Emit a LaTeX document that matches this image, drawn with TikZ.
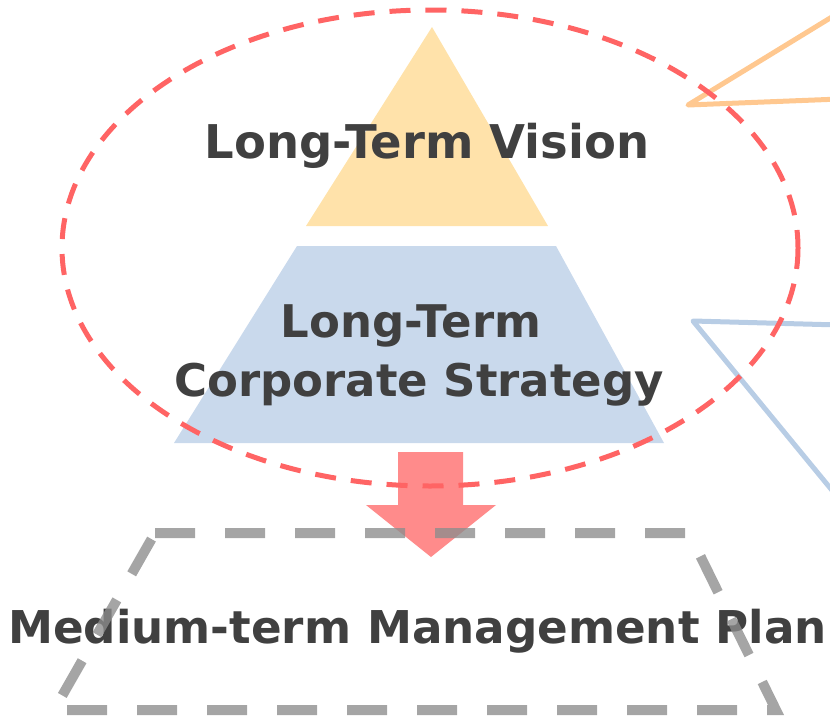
\documentclass[tikz,border=0pt]{standalone}
\usepackage{fontspec}
\setmainfont{DejaVu Sans}
\usetikzlibrary{calc}
\definecolor{visionfill}{HTML}{FFE2AA}
\definecolor{strategyfill}{HTML}{C9D9EC}
\definecolor{labeltext}{HTML}{404040}
\definecolor{ringred}{HTML}{FF6464}
\definecolor{arrowred}{HTML}{FF6464}
\definecolor{planline}{HTML}{8C8C8C}
\definecolor{calloutorange}{HTML}{FFC890}
\definecolor{calloutblue}{HTML}{B8CDE5}
\tikzset{
  bigtext/.style={font=\bfseries\fontsize{45}{59}\selectfont, text=labeltext, inner sep=0pt, align=center},
  callout/.style={line width=5pt, line join=round, line cap=round},
  ring/.style={draw=ringred, line width=5pt, dash pattern=on 21pt off 15pt},
  planframe/.style={draw=planline, draw opacity=0.78, line width=10pt, dash pattern=on 40pt off 30pt},
}
\begin{document}
\begin{tikzpicture}[x=1pt, y=-1pt]
  \useasboundingbox (0,0) rectangle (830,715);
  \clip (0,0) rectangle (830,715);

  % pyramid layers
  \fill[visionfill] (432,27) -- (548,226) -- (306,226) -- cycle;
  \fill[strategyfill] (297,246) -- (556,246) -- (664,443) -- (174,443) -- cycle;

  % layer labels
  \node[bigtext, anchor=base, font=\bfseries\fontsize{46.5}{59}\selectfont] (vision) at (427,158) {Long-Term Vision};
  \node[bigtext, anchor=base] (strategy1) at (411,337) {Long-Term};
  \node[bigtext, anchor=base] (strategy2) at (419,396) {Corporate Strategy};

  % callout wedges to the right
  \coordinate (orangetip) at (688,105);
  \coordinate (orangeA) at (840,12);
  \coordinate (orangeB) at (840,99);
  \draw[callout, draw=calloutorange] (orangeA) -- (orangetip) -- (orangeB);
  \coordinate (bluetip) at (693,321);
  \coordinate (blueA) at (840,325);
  \coordinate (blueB) at (840,500);
  \draw[callout, draw=calloutblue] (blueA) -- (bluetip) -- (blueB);

  % long-term scope ring
  \draw[ring] (430,248) ellipse [x radius=368, y radius=238];

  % cascade arrow
  \fill[arrowred, fill opacity=0.75]
    (398,452) -- (463,452) -- (463,505) -- (496,505) -- (431,557)
    -- (366,505) -- (398,505) -- cycle;

  % medium-term plan
  \node[bigtext, anchor=base, font=\bfseries\fontsize{45.2}{59}\selectfont] (plan) at (417.5,643) {Medium-term Management Plan};
  \coordinate (tl) at (155,533);
  \coordinate (tr) at (689,533);
  \coordinate (br) at (776,710);
  \coordinate (bl) at (54,710);
  \draw[planframe] (tl) -- (tr) -- (br) -- (bl) -- cycle;
\end{tikzpicture}
\end{document}
